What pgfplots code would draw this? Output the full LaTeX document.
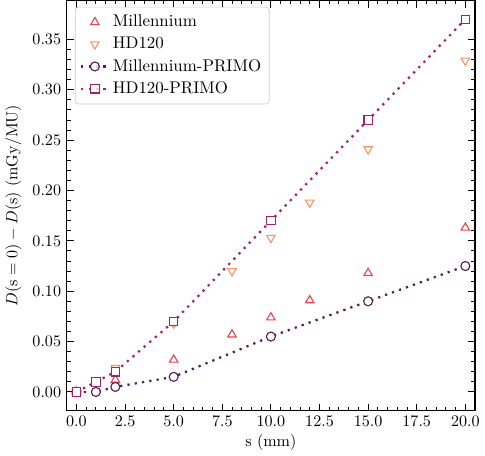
\documentclass[border=0pt]{standalone}
\usepackage{pgfplots}
\pgfplotsset{compat=1.18}
\definecolor{millcol}{RGB}{236,68,76}
\definecolor{hdcol}{RGB}{249,148,98}
\definecolor{mpcol}{RGB}{86,30,88}
\definecolor{hpcol}{RGB}{165,35,100}

\begin{document}
\begin{tikzpicture}
  \begin{axis}[
    scale only axis,
    width=254pt, height=255pt,
    xmin=-0.5, xmax=20.5,
    ymin=-0.0185, ymax=0.3885,
    xtick={0,2.5,...,20},
    ytick={0,0.05,...,0.35},
    minor x tick num=4,
    minor y tick num=4,
    tick align=inside,
    xtick pos=both, ytick pos=both,
    major tick length=4.4pt,
    minor tick length=2.4pt,
    every tick/.style={black, line width=0.6pt},
    axis line style={line width=0.8pt},
    x tick label style={/pgf/number format/.cd, fixed, fixed zerofill, precision=1},
    y tick label style={/pgf/number format/.cd, fixed, fixed zerofill, precision=2},
    xlabel={s (mm)},
    ylabel={$D(\mathrm{s}=0)-D(\mathrm{s})$ (mGy/MU)},
    xlabel style={yshift=2pt},
    legend style={at={(0.02,0.985)}, anchor=north west, draw=black!20,
      rounded corners=2pt, fill=white, fill opacity=0.8, text opacity=1,
      font=\fontsize{10.5}{12}\selectfont, row sep=1pt, inner sep=3pt},
    legend cell align=left,
  ]
    % Millennium
    \addplot[only marks, mark=triangle, mark size=3pt, color=millcol, line width=0.7pt,
      mark options={fill=white}]
      coordinates {(0,0) (2,0.012) (5,0.032) (8,0.057) (10,0.074) (12,0.091) (15,0.118) (20,0.163)};
    \addlegendentry{Millennium}
    % HD120
    \addplot[only marks, mark=triangle, mark size=3pt, color=hdcol, line width=0.7pt,
      mark options={rotate=180, fill=white}]
      coordinates {(0,0) (2,0.024) (5,0.068) (8,0.120) (10,0.153) (12,0.188) (15,0.241) (20,0.329)};
    \addlegendentry{HD120}
    % Millennium-PRIMO
    \addplot[color=mpcol, line width=1.4pt, dash pattern=on 1.4pt off 3.2pt, mark=*, mark size=2.8pt,
      mark options={solid, draw=mpcol, fill=white, line width=0.7pt}]
      coordinates {(0,0) (1,0) (2,0.005) (5,0.015) (10,0.055) (15,0.090) (20,0.125)};
    \addlegendentry{Millennium-PRIMO}
    % HD120-PRIMO
    \addplot[color=hpcol, line width=1.4pt, dash pattern=on 1.4pt off 3.2pt, mark=square*, mark size=2.6pt,
      mark options={solid, draw=hpcol, fill=white, line width=0.7pt}]
      coordinates {(0,0) (1,0.010) (2,0.020) (5,0.070) (10,0.170) (15,0.270) (20,0.370)};
    \addlegendentry{HD120-PRIMO}
  \end{axis}
\end{tikzpicture}
\end{document}
